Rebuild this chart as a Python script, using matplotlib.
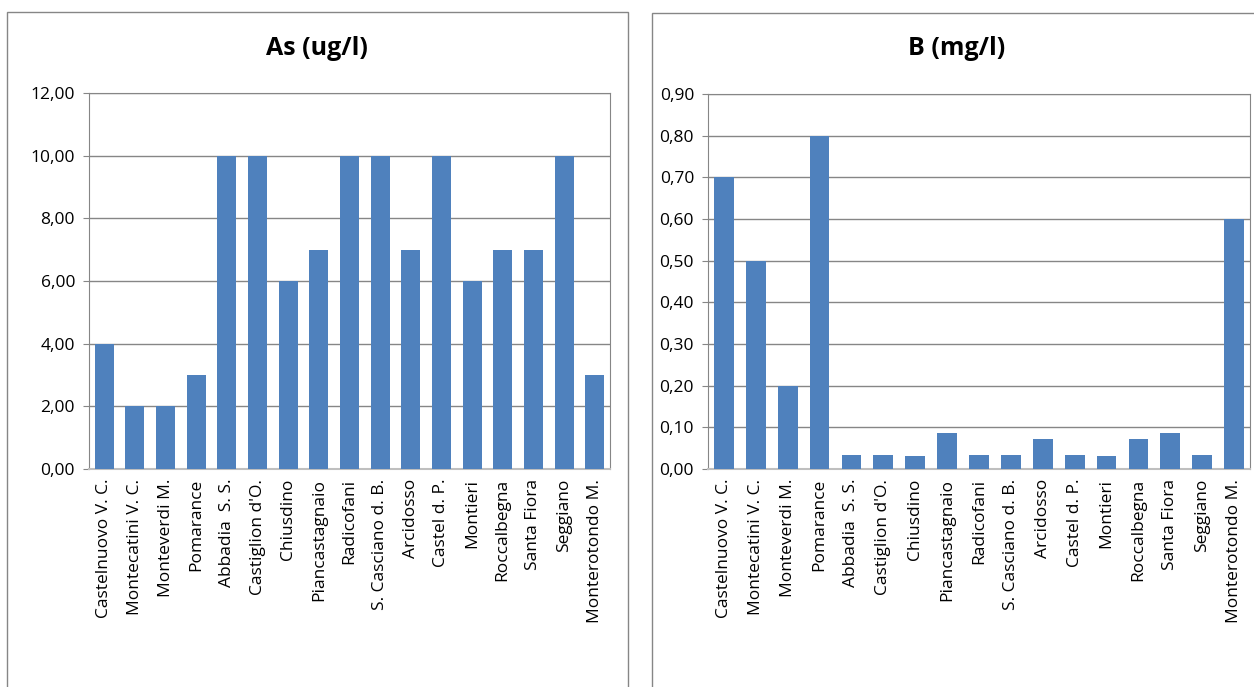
import matplotlib.pyplot as plt
from matplotlib.patches import Rectangle
from matplotlib.ticker import FuncFormatter, MultipleLocator

plt.rcParams["font.family"] = ["Open Sans", "DejaVu Sans"]

# comuni
comuni = ["Castelnuovo V. C.", "Montecatini V. C.", "Monteverdi M.", "Pomarance",
          "Abbadia  S. S.", "Castiglion d'O.", "Chiusdino", "Piancastagnaio",
          "Radicofani", "S. Casciano d. B.", "Arcidosso", "Castel d. P.",
          "Montieri", "Roccalbegna", "Santa Fiora", "Seggiano", "Monterotondo M."]

as_vals = [4, 2, 2, 3, 10, 10, 6, 7, 10, 10, 7, 10, 6, 7, 7, 10, 3]
b_vals = [0.70, 0.50, 0.20, 0.80, 0.033, 0.033, 0.031, 0.086, 0.033, 0.033,
          0.072, 0.033, 0.031, 0.072, 0.086, 0.033, 0.60]

colore = "#4F81BD"
grigio = "#868686"

fig = plt.figure(figsize=(12.54, 6.87), dpi=100)

# cornici dei due grafici
fig.patches.append(Rectangle((7 / 1254, -0.1), 621 / 1254, 1.1 - 12 / 687,
                             transform=fig.transFigure, fill=False,
                             edgecolor=grigio, lw=1.0))
fig.patches.append(Rectangle((652 / 1254, -0.1), 620 / 1254, 1.1 - 13 / 687,
                             transform=fig.transFigure, fill=False,
                             edgecolor=grigio, lw=1.0))


def grafico(pos, valori, titolo, ymax, passo, tx):
    ax = fig.add_axes(pos)
    x = range(len(comuni))
    ax.bar(x, valori, width=0.62, color=colore, zorder=3)
    ax.set_xlim(-0.5, len(comuni) - 0.5)
    ax.set_ylim(0, ymax)
    ax.yaxis.set_major_locator(MultipleLocator(passo))
    ax.yaxis.set_major_formatter(FuncFormatter(lambda v, p: f"{v:.2f}".replace(".", ",")))
    ax.grid(axis="y", color=grigio, lw=1.0, zorder=0)
    ax.set_xticks(list(x))
    ax.set_xticklabels(comuni, rotation=90, fontsize=12.5)
    ax.tick_params(axis="x", length=0, pad=7)
    ax.tick_params(axis="y", labelsize=12.5, length=4, color=grigio, pad=6)
    for s in ["top", "right"]:
        ax.spines[s].set_color(grigio)
    ax.spines["left"].set_color(grigio)
    ax.spines["bottom"].set_color("#BFBFBF")
    ax.spines["bottom"].set_linewidth(1.5)
    fig.text(tx, 0.93, titolo, ha="center", va="center", fontsize=18, fontweight="bold")
    return ax


grafico([89 / 1254, 1 - 469 / 687, 521 / 1254, 376 / 687], as_vals, "As (ug/l)", 12, 2, 317 / 1254)
grafico([708 / 1254, 1 - 469 / 687, 542 / 1254, 375 / 687], b_vals, "B (mg/l)", 0.9, 0.1, 957 / 1254)

fig.savefig("out.png", dpi=100)
